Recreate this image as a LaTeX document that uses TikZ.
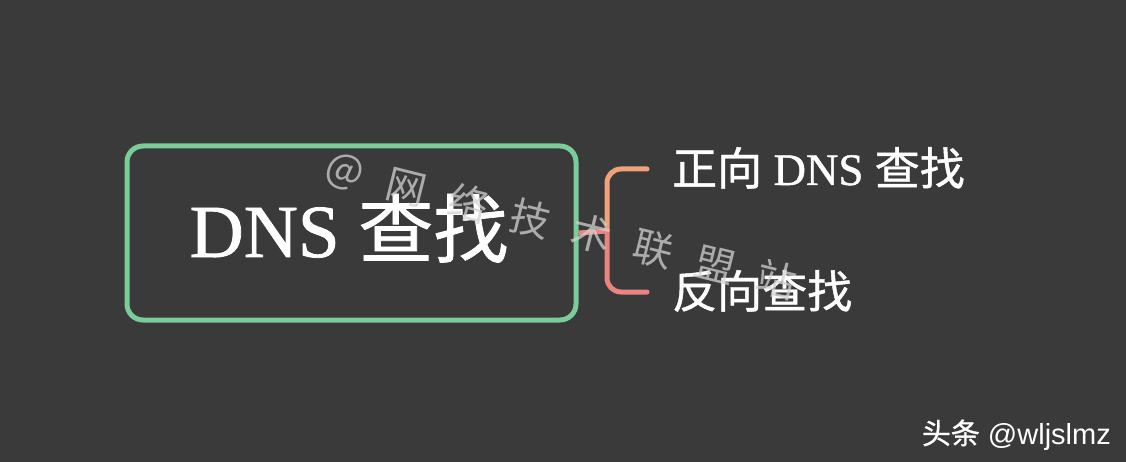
\documentclass[tikz,border=0pt]{standalone}
\usepackage{fontspec}
\setmainfont{Liberation Serif}[FakeBold=1]
\setsansfont{Liberation Sans}
\newfontfamily\cjk{Noto Sans CJK SC}[FakeBold=1]
\newfontfamily\cjkplain{Noto Sans CJK SC}
\usetikzlibrary{calc}

\definecolor{bgdark}{RGB}{58,58,58}
\definecolor{rootgreen}{RGB}{122,204,152}
\definecolor{brktop}{RGB}{240,162,120}
\definecolor{brkbot}{RGB}{234,132,128}
\definecolor{markgray}{RGB}{210,210,210}

\tikzset{
  rootbox/.style={draw=rootgreen,line width=5pt,rounded corners=16pt,
    minimum width=449pt,minimum height=174pt,inner sep=0pt},
  leaf/.style={anchor=base west,text=white,inner sep=0pt,font=\fontsize{45}{50}\selectfont},
  wmark/.style={text=markgray,opacity=.75,rotate=-14,inner sep=0pt,
    font=\cjkplain\fontsize{40}{42}\selectfont},
}

\begin{document}
\begin{tikzpicture}[x=1pt,y=-1pt]
\fill[bgdark] (0,0) rectangle (1126,462);
\useasboundingbox (0,0) rectangle (1126,462);

% main topic
\node[rootbox] (root) at (351.5,233) {};
\node[anchor=base,text=white,inner sep=0pt,font=\fontsize{75}{80}\selectfont]
  (title) at (349,257) {DNS {\cjk 查找}};

% sub topics
\node[leaf] (fwd) at (672,185) {{\cjk 正向} DNS {\cjk 查找}};
\node[leaf] (rev) at (672,308) {\cjk 反向查找};

% bracket
\coordinate (fork) at (607,231);
\coordinate (armtop) at (647,169);
\coordinate (armbot) at (647,292);
\draw[brkbot,line width=5pt] (root.east) -- (fork);
\draw[brktop,line width=5pt,line cap=round,rounded corners=14pt]
  (armtop) -| (fork);
\draw[brkbot,line width=5pt,line cap=round,rounded corners=14pt]
  (fork) |- (armbot);

% watermark
\coordinate (wm0) at (345,172);
\foreach \c [count=\i from 0] in {@,网,络,技,术,联,盟,站}
  \node[wmark] (wm\i) at ($(wm0)+(\i*61.7,\i*15.4)$) {\c};

% credit
\node[anchor=base east,text=white,inner sep=0pt,font=\sffamily\fontsize{29}{31}\selectfont]
  (credit) at (1111,444) {{\cjk 头条} @wljslmz};
\end{tikzpicture}
\end{document}
